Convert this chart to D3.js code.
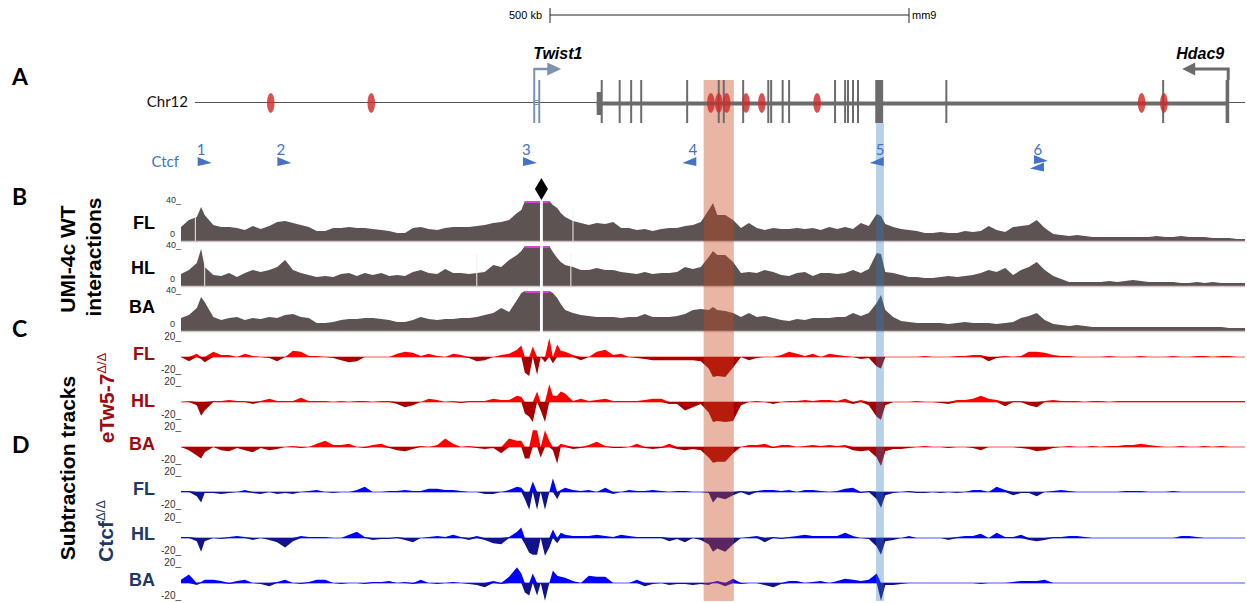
<!DOCTYPE html>
<html>
<head>
<meta charset="utf-8">
<title>Twist1 - Hdac9 UMI-4c tracks</title>
<script src="https://cdn.jsdelivr.net/npm/d3@7"></script>
<style>
  html, body { margin: 0; padding: 0; background: #fff; }
  #chart { width: 1247px; height: 603px; }
  svg { display: block; }
</style>
</head>
<body>
<div id="chart"></div>
<script>
// ---- data (positions in kb from the left edge of the window, chr12 mm9) ----
const genomeSpanKb = 1482;

const binKb = [
  0, 11, 22, 28, 33, 45, 56, 67, 78, 89,
  100, 111, 123, 134, 145, 156, 167, 178, 189, 201,
  212, 223, 234, 245, 256, 267, 279, 290, 301, 312,
  323, 334, 345, 357, 368, 379, 390, 401, 412, 423,
  435, 446, 457, 468, 474, 479, 485, 490, 496, 501,
  507, 513, 518, 524, 529, 535, 546, 557, 568, 579,
  591, 602, 613, 624, 635, 646, 657, 669, 680, 691,
  702, 713, 724, 735, 741, 747, 758, 769, 780, 791,
  802, 813, 825, 836, 847, 858, 869, 880, 891, 903,
  914, 925, 936, 947, 958, 969, 975, 981, 992, 1003,
  1014, 1025, 1036, 1047, 1058, 1069, 1081, 1092, 1103, 1114,
  1125, 1136, 1148, 1159, 1170, 1181, 1192, 1203, 1215, 1226,
  1237, 1248, 1259, 1270, 1281, 1293, 1304, 1315, 1326, 1337,
  1348, 1359, 1371, 1382, 1393, 1404, 1415, 1426, 1437, 1449,
  1460, 1471, 1482
];

// UMI-4c WT interaction profiles (0..40)
const umiFL = [
  14, 21, 24, 34, 26, 16, 14, 14, 13, 11,
  15, 12, 15, 19, 20, 18, 16, 14, 10, 10,
  13, 13, 14, 13, 13, 12, 11, 10, 8, 8,
  13, 14, 12, 11, 13, 14, 14, 14, 15, 16,
  18, 19, 21, 28, 31, 40, 40, 40, 40, 40,
  40, 40, 36, 33, 28, 24, 20, 18, 16, 18,
  17, 19, 13, 13, 11, 12, 10, 12, 13, 13,
  15, 16, 19, 31, 38, 26, 26, 21, 13, 18,
  13, 11, 13, 12, 12, 13, 12, 13, 11, 14,
  12, 14, 12, 18, 15, 27, 25, 17, 14, 12,
  11, 10, 8, 8, 9, 8, 8, 10, 9, 10,
  15, 11, 9, 14, 15, 16, 21, 13, 7, 6,
  5, 6, 5, 4, 4, 4, 4, 4, 4, 4,
  4, 5, 4, 4, 5, 4, 4, 4, 3, 3,
  3, 2, 2
];
const umiHL = [
  12, 16, 23, 37, 19, 11, 10, 13, 9, 13,
  16, 14, 16, 19, 26, 16, 13, 11, 9, 10,
  9, 12, 13, 10, 13, 11, 13, 10, 11, 10,
  14, 16, 13, 12, 17, 13, 13, 12, 13, 14,
  21, 19, 26, 31, 35, 40, 40, 40, 40, 40,
  40, 40, 34, 28, 24, 21, 19, 16, 16, 18,
  16, 16, 14, 13, 12, 14, 12, 13, 13, 14,
  19, 17, 19, 29, 35, 31, 31, 24, 13, 14,
  13, 16, 14, 11, 10, 13, 14, 10, 13, 13,
  12, 13, 16, 13, 17, 33, 32, 14, 13, 11,
  9, 9, 8, 8, 9, 10, 9, 10, 11, 13,
  16, 14, 18, 11, 16, 19, 24, 16, 10, 7,
  4, 4, 4, 4, 4, 5, 4, 5, 6, 5,
  4, 4, 4, 4, 3, 3, 4, 3, 4, 3,
  3, 3, 3
];
const umiBA = [
  13, 16, 23, 34, 29, 14, 11, 13, 14, 11,
  13, 12, 14, 13, 16, 17, 14, 13, 8, 8,
  9, 11, 12, 12, 13, 13, 12, 11, 9, 9,
  11, 14, 12, 11, 12, 12, 13, 13, 14, 16,
  18, 23, 19, 31, 38, 40, 40, 40, 40, 40,
  40, 40, 38, 33, 27, 21, 18, 16, 15, 14,
  14, 14, 13, 14, 14, 17, 14, 14, 14, 15,
  17, 21, 22, 21, 24, 21, 20, 18, 14, 18,
  14, 15, 13, 11, 10, 12, 11, 13, 13, 13,
  14, 14, 18, 15, 18, 28, 36, 21, 14, 10,
  9, 8, 8, 8, 8, 7, 8, 9, 8, 8,
  8, 7, 8, 9, 13, 15, 18, 11, 7, 6,
  5, 6, 5, 4, 4, 4, 4, 4, 4, 4,
  4, 4, 4, 4, 4, 4, 4, 4, 4, 4,
  3, 3, 3
];
// thin empty bins inside the WT profiles
const umiGapFL = [20, 546];
const umiGapHL = [33, 412, 543];
const umiGapBA = [];

// subtraction tracks, eTw5-7 deletion (-20..20)
const twFL = [
  0, -4, 3, -2, -5, 5, 2, 2, 0, 3,
  1, 0, -1, -4, 0, 6, 5, 1, 1, 0,
  -1, -3, -5, -4, 0, 0, 0, 0, 3, 5,
  4, 1, 3, 1, 0, 3, 2, -1, -4, -3,
  0, 2, 3, 7, 11, -15, -18, 10, -17, 0,
  -5, 18, -6, 12, 6, 5, 2, -3, 0, 5,
  7, 2, 3, 0, -1, -2, -3, -3, -3, -3,
  -3, -3, -4, -11, -19, -18, -19, -10, 0, -3,
  -1, 0, 0, 2, 5, 3, 1, 3, 0, 3,
  2, 1, 0, -2, -1, -9, -11, 0, 0, 0,
  0, 0, 1, 0, 0, 0, 1, 1, 2, 2,
  -4, -1, 1, 0, 1, 5, 5, 4, 2, 1,
  1, 0, 0, 0, 0, 1, 0, 0, 0, 1,
  0, 0, 0, 1, 0, 0, 1, 1, 0, 1,
  1, 0, 0
];
const twHL = [
  0, 1, -3, -13, -8, 1, 1, 2, 1, 1,
  -2, 1, 3, 1, 1, 1, 4, 1, 1, 1,
  0, 1, 0, 1, 1, 0, 1, 1, -2, -5,
  -3, 0, 3, 2, 0, 1, -1, 1, 1, 1,
  3, 2, 2, 6, 5, -11, -14, -19, 10, -8,
  -19, 17, 6, 6, 10, 8, 1, 3, 1, 2,
  3, 1, 1, 1, 1, 2, 3, 3, -2, -2,
  -8, -5, -2, -10, -19, -18, -19, -18, -3, 0,
  1, 0, -2, 0, 1, 1, 2, 1, 2, 2,
  1, 3, -2, 2, -3, -14, -17, -3, 0, 0,
  0, 1, 0, 0, -1, -2, 2, 2, 3, 6,
  3, 2, -4, 1, 1, -3, -5, 1, 2, 1,
  1, 1, 0, 1, 1, 0, 1, 1, 1, 1,
  1, 1, 1, 1, 1, 1, 1, 1, 1, 1,
  1, 1, 1
];
const twBA = [
  0, -3, -8, -11, -5, 0, -3, -4, -1, -3,
  -5, -1, -3, -2, 0, 1, -1, 0, 3, 6,
  2, 2, 3, 0, -1, 2, 3, -1, -3, -4,
  -2, 1, 0, 2, 8, 3, 0, 1, -1, -2,
  -1, -6, 8, 6, 6, -11, -11, 16, 16, -10,
  16, 6, -3, -16, 3, 2, -2, -1, 2, 5,
  1, -1, -1, 0, 3, -1, -2, -1, 3, -2,
  -3, -2, -3, -10, -15, -14, -14, -6, 0, 2,
  2, 3, -1, 2, 2, 0, 1, 2, 1, 2,
  1, 2, -3, -4, -3, -10, -18, -4, -2, -2,
  -1, 0, 1, 0, 0, -1, 0, 0, -1, -3,
  0, 0, 0, 0, -1, -2, -4, -3, -1, 0,
  1, 0, 0, 1, 0, 1, 1, 2, 2, 3,
  2, 1, 0, 0, 1, 0, 0, 1, 0, 1,
  0, 0, 0
];

// subtraction tracks, Ctcf deletion (-20..20)
const ctFL = [
  1, 1, -4, -10, -1, -1, -2, -1, 0, 2,
  -1, -2, 0, -2, -1, -2, 0, 1, 2, 0,
  -1, 0, 0, 2, 5, 0, 0, 1, 1, 2,
  1, 1, 3, 3, 2, 2, 1, 0, 0, -2,
  -2, 0, 2, 5, 4, -7, -17, 10, -17, 0,
  -17, 0, 13, -7, 2, 4, 2, 1, 2, 0,
  4, -2, 0, 2, 1, 1, 2, 1, 0, 1,
  1, 0, 0, -1, -10, -5, -7, -3, 1, -3,
  1, 2, 2, 1, 2, 0, 2, 2, 1, 0,
  1, 3, 4, -1, 1, -7, -15, -3, -1, 0,
  1, -1, -1, 0, -1, 0, -1, 0, 2, 2,
  0, 5, 2, -3, -1, -1, -4, 0, 1, 2,
  1, 0, 0, 0, 0, 0, 0, 1, 1, 1,
  0, 0, 0, 1, 0, 0, 0, 0, 0, 0,
  0, 0, 0
];
const ctHL = [
  1, 1, -3, -13, -3, 0, -1, 1, 2, 1,
  -2, 0, -2, -4, -9, -3, 2, 1, 1, 1,
  0, 0, 3, 6, 1, -2, -1, -1, 1, -2,
  -4, 0, 1, 2, 1, 3, 1, -2, 2, -2,
  -5, -6, 1, 6, 10, -6, -14, -16, -16, 0,
  -17, -9, 8, -5, 5, 3, 2, 2, 2, 3,
  2, 1, 3, 2, 1, 1, 1, 1, -3, -1,
  -4, 0, -2, -6, -13, -10, -13, -6, 0, 1,
  2, -4, 1, -1, 1, 2, 3, 2, 2, 2,
  2, 5, 2, 0, -1, -8, -16, -3, -2, 0,
  2, 0, 0, 0, 0, -2, 1, 2, 2, 4,
  0, 5, 1, 1, 3, -2, -3, -2, 1, 1,
  2, 2, 1, 0, 0, 0, 0, 0, 0, 0,
  0, 0, 0, 0, 2, 2, 1, 0, 0, 0,
  0, 0, 0
];
const ctBA = [
  3, 8, -2, 1, 3, 3, 2, -1, 2, 3,
  0, -1, -3, 1, 3, 0, -1, 1, 3, 3,
  0, -1, 0, 0, -1, 1, 1, 2, 0, 1,
  -1, 3, 0, -1, 0, 1, 0, -1, -2, -4,
  2, -1, 6, 15, 9, -9, -12, 9, -12, 0,
  -17, 0, 12, 7, 6, 5, 2, 0, 7, 6,
  6, 0, 0, 0, 3, -3, -1, 0, -2, -1,
  -1, -2, -1, -2, 1, 2, -3, 4, -1, 0,
  0, -2, -4, -1, 2, 2, 0, 1, 2, 0,
  2, 4, 3, 2, 3, 9, -17, -2, -2, -1,
  0, 0, 0, 0, 0, 0, 0, 0, 0, -1,
  0, 0, 0, 1, 2, 2, 2, 3, 0, 0,
  0, 0, 0, 0, 0, 0, 0, 0, 0, 0,
  0, 0, 0, 0, 0, 0, 0, 0, 0, 0,
  0, 0, 0
];

// annotation track
const enhancerKb = [125, 265, 738, 749, 760, 787, 809, 886, 1338, 1369];
const twist1Kb = [492, 499];
const hdac9BodyKb = [579, 1459];
const hdac9ExonKb = [586, 611, 627, 641, 705, 749, 756, 783, 818, 822, 838, 847,
  911, 925, 929, 936, 943, 1066, 1368];
const hdac9BlockKb = [[579, 585], [967, 978], [1455, 1460]];
const ctcfSites = [['1', 33, '+'], ['2', 144, '+'], ['3', 486, '+'],
  ['4', 708, '-'], ['5', 969, '-'], ['6', 1195, '+-']];
const orangeBandKb = [728, 770];
const blueBandKb = [968, 979];
const viewpointKb = [500, 504];
const scaleBarKb = [514, 1014];
const umiTickLabels = ['40_', '0'];
const subTickLabels = ['20_', '-20_'];
const sampleNames = ['FL', 'HL', 'BA'];

// ---- drawing ----
function initChart() {
    try {
        console.log('[Chart] start');
        if (!window.d3) throw new Error('D3.js not loaded');
        if (binKb.length !== umiFL.length) console.warn('[Chart] bin count mismatch', binKb.length, umiFL.length);

        const svg = d3.select('#chart').append('svg')
            .attr('width', 1247)
            .attr('height', 603)
            .attr('viewBox', '0 0 1247 603');

        const x = d3.scaleLinear().domain([0, genomeSpanKb]).range([181, 1245]);

        drawScaleBar(svg, x);

        // B: WT profiles
        const umiTops = [201, 246, 291];
        const umiLabelY = [229, 274, 313];
        [umiFL, umiHL, umiBA].forEach((vals, i) => {
            drawUmiTrack(svg, x, vals, umiTops[i], [umiGapFL, umiGapHL, umiGapBA][i]);
            trackLabel(svg, sampleNames[i], umiLabelY[i], '#000');
        });
        // viewpoint gap
        svg.append('rect')
            .attr('x', x(viewpointKb[0]))
            .attr('y', 196)
            .attr('width', x(viewpointKb[1]) - x(viewpointKb[0]))
            .attr('height', 137)
            .attr('fill', '#fff');

        // C / D: subtraction tracks
        const twZero = [357, 402, 447];
        const twLabelY = [360, 407, 450];
        [twFL, twHL, twBA].forEach((vals, i) => {
            drawSubTrack(svg, x, vals, twZero[i], '#ff0000', '#a80000', '#ff8c8c');
            trackLabel(svg, sampleNames[i], twLabelY[i], '#9e0b0f');
        });
        const ctZero = [492, 538, 583];
        const ctLabelY = [495, 540, 586];
        [ctFL, ctHL, ctBA].forEach((vals, i) => {
            drawSubTrack(svg, x, vals, ctZero[i], '#0000ff', '#12128c', '#8c8cff');
            trackLabel(svg, sampleNames[i], ctLabelY[i], '#203864');
        });

        drawHighlights(svg, x);
        drawGenes(svg, x);
        drawCtcf(svg, x);
        drawSideLabels(svg);

        console.log('[Chart] done');
    } catch (error) {
        console.error('[Chart] error:', error);
    }
}

function drawScaleBar(svg, x) {
    const g = svg.append('g').attr('class', 'scale-bar');
    const x0 = x(scaleBarKb[0]), x1 = x(scaleBarKb[1]);
    g.append('line').attr('x1', x0).attr('x2', x1).attr('y1', 15).attr('y2', 15)
        .attr('stroke', '#222').attr('stroke-width', 1);
    [x0, x1].forEach(px => {
        g.append('line').attr('x1', px).attr('x2', px).attr('y1', 8).attr('y2', 23)
            .attr('stroke', '#222').attr('stroke-width', 1);
    });
    g.append('text').attr('x', x0 - 8).attr('y', 19).attr('text-anchor', 'end')
        .attr('font-family', 'Liberation Sans, Arial, sans-serif').attr('font-size', 11)
        .text((scaleBarKb[1] - scaleBarKb[0]) + ' kb');
    g.append('text').attr('x', x1 + 3).attr('y', 19)
        .attr('font-family', 'Liberation Sans, Arial, sans-serif').attr('font-size', 11)
        .text('mm9');
}

function drawUmiTrack(svg, x, vals, top, gaps) {
    const g = svg.append('g').attr('class', 'umi-track');
    const y = d3.scaleLinear().domain([0, 40]).range([top + 40, top]);

    const area = d3.area()
        .x((d, i) => x(binKb[i]))
        .y0(y(0))
        .y1(d => y(Math.min(d, 40)))
        .curve(d3.curveLinear);

    g.append('path').datum(vals).attr('d', area).attr('fill', '#5d5352');

    // saturated bins are marked in magenta
    let start = null;
    const runs = [];
    vals.forEach((v, i) => {
        if (v >= 40) { if (start === null) start = i; }
        else if (start !== null) { runs.push([start, i - 1]); start = null; }
    });
    runs.forEach(([s, e]) => {
        g.append('line')
            .attr('x1', x(binKb[s])).attr('x2', x(binKb[e]))
            .attr('y1', y(40) + 1).attr('y2', y(40) + 1)
            .attr('stroke', '#e23be2').attr('stroke-width', 2);
    });

    gaps.forEach(kb => {
        g.append('line').attr('x1', x(kb)).attr('x2', x(kb))
            .attr('y1', top + 8).attr('y2', y(0))
            .attr('stroke', '#f2f0f0').attr('stroke-width', 1);
    });

    g.append('line').attr('x1', x(0)).attr('x2', x(genomeSpanKb))
        .attr('y1', y(0) + 0.5).attr('y2', y(0) + 0.5)
        .attr('stroke', '#cfc8c8').attr('stroke-width', 1.5);

    // small scale labels (kept compact so neighbours do not touch)
    const font = 'Liberation Sans, Arial, sans-serif';
    g.append('text').attr('x', 181).attr('y', top + 2).attr('text-anchor', 'end')
        .attr('font-family', font).attr('font-size', 9).attr('fill', '#333')
        .text(umiTickLabels[0]);
    g.append('text').attr('x', 175).attr('y', top + 35.5).attr('text-anchor', 'end')
        .attr('font-family', font).attr('font-size', 9).attr('fill', '#333')
        .text(umiTickLabels[1]);
}

function drawSubTrack(svg, x, vals, zero, posColor, negColor, lineColor) {
    const g = svg.append('g').attr('class', 'sub-track');
    const y = d3.scaleLinear().domain([-20, 20]).range([zero + 21, zero - 21]);

    const pos = d3.area()
        .x((d, i) => x(binKb[i]))
        .y0(y(0))
        .y1(d => y(Math.max(0, Math.min(d, 20))));
    const neg = d3.area()
        .x((d, i) => x(binKb[i]))
        .y0(y(0))
        .y1(d => y(Math.min(0, Math.max(d, -20))));

    g.append('line').attr('x1', x(0)).attr('x2', x(genomeSpanKb))
        .attr('y1', y(0)).attr('y2', y(0))
        .attr('stroke', lineColor).attr('stroke-width', 1.5);
    g.append('path').datum(vals).attr('d', pos).attr('fill', posColor);
    g.append('path').datum(vals).attr('d', neg).attr('fill', negColor);

    const font = 'Liberation Sans, Arial, sans-serif';
    g.append('text').attr('x', 181).attr('y', zero - 17).attr('text-anchor', 'end')
        .attr('font-family', font).attr('font-size', 10).attr('fill', '#333')
        .text(subTickLabels[0]);
    g.append('text').attr('x', 181).attr('y', zero + 16).attr('text-anchor', 'end')
        .attr('font-family', font).attr('font-size', 10).attr('fill', '#333')
        .text(subTickLabels[1]);
}

function trackLabel(svg, name, yBase, color) {
    svg.append('text')
        .attr('x', 155).attr('y', yBase)
        .attr('text-anchor', 'end')
        .attr('font-family', 'Liberation Sans, Arial, sans-serif')
        .attr('font-weight', 'bold')
        .attr('font-size', 18)
        .attr('fill', color)
        .text(name);
}

function drawHighlights(svg, x) {
    svg.append('rect')
        .attr('x', x(orangeBandKb[0])).attr('y', 80)
        .attr('width', x(orangeBandKb[1]) - x(orangeBandKb[0]))
        .attr('height', 521)
        .attr('fill', 'rgb(200,70,30)').attr('fill-opacity', 0.4);
    svg.append('rect')
        .attr('x', x(blueBandKb[0])).attr('y', 123)
        .attr('width', x(blueBandKb[1]) - x(blueBandKb[0]))
        .attr('height', 478)
        .attr('fill', 'rgb(52,121,189)').attr('fill-opacity', 0.35);
}

function drawGenes(svg, x) {
    const g = svg.append('g').attr('class', 'genes');
    const midY = 102.5;
    const geneGray = '#6b6b6b';
    const twistBlue = '#7d92b0';

    // chromosome line
    g.append('line').attr('x1', 195).attr('x2', 1245).attr('y1', midY).attr('y2', midY)
        .attr('stroke', '#555').attr('stroke-width', 1.2);
    g.append('text').attr('x', 188).attr('y', 107).attr('text-anchor', 'end')
        .attr('font-family', 'Lato, sans-serif').attr('font-size', 15).attr('fill', '#111')
        .text('Chr12');

    // Hdac9 body, exons
    g.append('line').attr('x1', x(hdac9BodyKb[0])).attr('x2', x(hdac9BodyKb[1]))
        .attr('y1', midY + 1).attr('y2', midY + 1)
        .attr('stroke', geneGray).attr('stroke-width', 4);
    hdac9ExonKb.forEach(kb => {
        g.append('line').attr('x1', x(kb)).attr('x2', x(kb)).attr('y1', 80).attr('y2', 123)
            .attr('stroke', geneGray).attr('stroke-width', 2);
    });
    hdac9BlockKb.forEach(([a, b], i) => {
        const utr = i === 0;
        g.append('rect')
            .attr('x', x(a)).attr('width', Math.max(3, x(b) - x(a)))
            .attr('y', utr ? 92 : 80).attr('height', utr ? 23 : 43)
            .attr('fill', geneGray);
    });
    // Hdac9 TSS arrow (minus strand)
    const hx = x(hdac9BlockKb[2][1]) - 1;
    g.append('path')
        .attr('d', `M${hx},80 V69 H${hx - 34}`)
        .attr('fill', 'none').attr('stroke', geneGray).attr('stroke-width', 3);
    g.append('path')
        .attr('d', `M${hx - 33},62.5 L${hx - 46},69 L${hx - 33},75.5 Z`)
        .attr('fill', geneGray);
    g.append('text').attr('x', hx - 52).attr('y', 59)
        .attr('font-family', 'Liberation Sans, Arial, sans-serif')
        .attr('font-weight', 'bold').attr('font-style', 'italic').attr('font-size', 16)
        .text('Hdac9');

    // Twist1
    const t0 = x(twist1Kb[0]), t1 = x(twist1Kb[1]);
    g.append('line').attr('x1', t0).attr('x2', t0).attr('y1', 68).attr('y2', 123)
        .attr('stroke', twistBlue).attr('stroke-width', 2);
    g.append('line').attr('x1', t1).attr('x2', t1).attr('y1', 80).attr('y2', 123)
        .attr('stroke', twistBlue).attr('stroke-width', 2);
    g.append('rect').attr('x', t0).attr('y', 100.5).attr('width', t1 - t0).attr('height', 4)
        .attr('fill', 'none').attr('stroke', twistBlue).attr('stroke-width', 1);
    g.append('path').attr('d', `M${t0},69 H${t0 + 14}`)
        .attr('stroke', twistBlue).attr('stroke-width', 2.5).attr('fill', 'none');
    g.append('path')
        .attr('d', `M${t0 + 13},62.5 L${t0 + 27},69 L${t0 + 13},75.5 Z`)
        .attr('fill', twistBlue);
    g.append('text').attr('x', t0 - 1).attr('y', 59)
        .attr('font-family', 'Liberation Sans, Arial, sans-serif')
        .attr('font-weight', 'bold').attr('font-style', 'italic').attr('font-size', 16)
        .text('Twist1');

    // enhancers
    g.selectAll('ellipse.enh').data(enhancerKb).enter().append('ellipse')
        .attr('class', 'enh')
        .attr('cx', d => x(d)).attr('cy', midY + 0.5)
        .attr('rx', 3.8).attr('ry', 10)
        .attr('fill', '#cf2b2b').attr('fill-opacity', 0.82);

    // viewpoint diamond
    const vx = x((viewpointKb[0] + viewpointKb[1]) / 2);
    svg.append('path')
        .attr('d', `M${vx},178 L${vx + 6.5},189 L${vx},200 L${vx - 6.5},189 Z`)
        .attr('fill', '#000');
}

function drawCtcf(svg, x) {
    const g = svg.append('g').attr('class', 'ctcf');
    const blue = '#4472c4';
    g.append('text').attr('x', 179).attr('y', 167).attr('text-anchor', 'end')
        .attr('font-family', 'Lato, sans-serif').attr('font-size', 15).attr('fill', blue)
        .text('Ctcf');

    const tri = (cx, cy, dir) => {
        const b = cx - dir * 7, t = cx + dir * 7;
        return `M${b},${cy - 4.5} L${t},${cy + 1.5} L${b},${cy + 4.5} Z`;
    };

    ctcfSites.forEach(([id, kb, strand]) => {
        const cx = x(kb);
        let numX = cx;
        if (strand === '+') {
            g.append('path').attr('d', tri(cx, 161.5, 1)).attr('fill', blue);
            numX = cx - 3.5;
        } else if (strand === '-') {
            g.append('path').attr('d', tri(cx, 161.5, -1)).attr('fill', blue);
            numX = cx + 3.5;
        } else {
            g.append('path').attr('d', tri(cx + 2, 159.5, 1)).attr('fill', blue);
            g.append('path').attr('d', tri(cx - 2, 167, -1)).attr('fill', blue);
            numX = cx - 1;
        }
        g.append('text').attr('x', numX).attr('y', 155).attr('text-anchor', 'middle')
            .attr('font-family', 'Lato, sans-serif').attr('font-size', 15).attr('fill', blue)
            .text(id);
    });
}

function drawSideLabels(svg) {
    const g = svg.append('g').attr('class', 'side-labels');
    const letters = [['A', 85], ['B', 205], ['C', 337], ['D', 453]];
    letters.forEach(([t, yb]) => {
        g.append('text').attr('x', 12).attr('y', yb)
            .attr('font-family', 'Lato, sans-serif').attr('font-weight', 'bold')
            .attr('font-size', 23).text(t);
    });

    const arial = 'Liberation Sans, Arial, sans-serif';
    const rot = (tx, ty, color) => g.append('text')
        .attr('transform', `translate(${tx},${ty}) rotate(-90)`)
        .attr('text-anchor', 'middle')
        .attr('font-family', arial).attr('font-weight', 'bold').attr('font-size', 21)
        .attr('fill', color);

    rot(75, 259, '#000').text('UMI-4c WT');
    rot(101, 257, '#000').text('interactions');
    rot(75, 468, '#000').text('Subtraction tracks');

    const tw = rot(114, 398, '#9e0b0f');
    tw.append('tspan').text('eTw5-7');
    tw.append('tspan').attr('dy', -8).attr('font-size', 13).attr('font-weight', 'normal').text('Δ/Δ');

    const ct = rot(113, 531, '#203864');
    ct.append('tspan').text('Ctcf');
    ct.append('tspan').attr('dy', -8).attr('font-size', 13).attr('font-weight', 'normal').text('Δ/Δ');
}

document.addEventListener('DOMContentLoaded', initChart);
</script>
</body>
</html>
